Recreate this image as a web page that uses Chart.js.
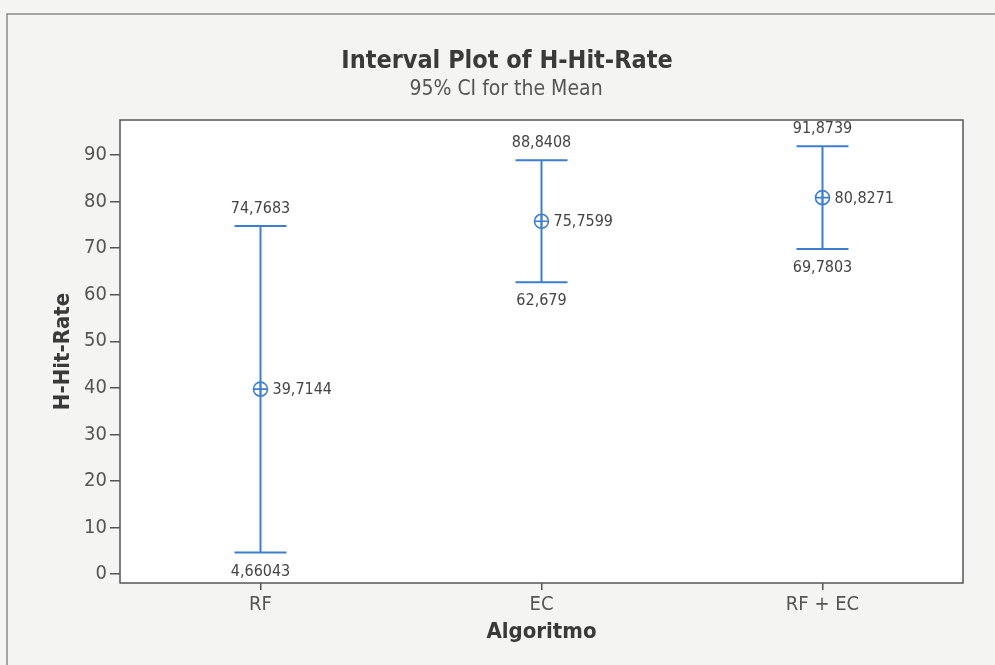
<!DOCTYPE html>
<html>
<head>
<meta charset="utf-8">
<script src="https://cdn.jsdelivr.net/npm/chart.js@4/dist/chart.umd.min.js"></script>
<style>
  html, body { margin: 0; padding: 0; background: #f4f4f2; }
  #wrap { width: 995px; height: 665px; }
</style>
</head>
<body>
<div id="wrap"><canvas id="c" width="995" height="665"></canvas></div>
<script>
// Interval plot: mean and 95% confidence interval per algorithm
const categories = ['RF', 'EC', 'RF + EC'];
const means = [39.7144, 75.7599, 80.8271];
const lowerCI = [4.66043, 62.679, 69.7803];
const upperCI = [74.7683, 88.8408, 91.8739];
const yTicks = [0, 10, 20, 30, 40, 50, 60, 70, 80, 90];

const BLUE = '#3d7ecf';
const FONT = '"DejaVu Sans Condensed", "DejaVu Sans", sans-serif';
const fmt = v => String(v).replace('.', ',');

const framePlugin = {
  id: 'frame',
  beforeDraw(chart) {
    const { ctx, chartArea: a, width, height } = chart;
    ctx.save();
    ctx.fillStyle = '#f4f4f2';
    ctx.fillRect(0, 0, width, height);
    // outer graph frame
    ctx.strokeStyle = '#8a8a8a';
    ctx.lineWidth = 1.5;
    ctx.beginPath();
    ctx.moveTo(7, height + 2);
    ctx.lineTo(7, 14);
    ctx.lineTo(width + 2, 14);
    ctx.stroke();
    // data region
    ctx.fillStyle = '#ffffff';
    ctx.fillRect(a.left, a.top, a.right - a.left, a.bottom - a.top);
    // titles
    ctx.fillStyle = '#3a3a3a';
    ctx.textAlign = 'center';
    ctx.textBaseline = 'middle';
    ctx.font = 'bold 25px ' + FONT;
    ctx.fillText('Interval Plot of H-Hit-Rate', 507, 61);
    ctx.fillStyle = '#555555';
    ctx.font = '21px ' + FONT;
    ctx.fillText('95% CI for the Mean', 506, 90);
    ctx.restore();
  },
  afterDatasetsDraw(chart) {
    const { ctx, chartArea: a } = chart;
    const xs = chart.scales.x, ys = chart.scales.y;
    ctx.save();
    // intervals
    ctx.strokeStyle = BLUE;
    ctx.lineWidth = 2;
    const cap = 26;
    categories.forEach((c, i) => {
      const x = xs.getPixelForValue(i);
      const yl = ys.getPixelForValue(lowerCI[i]);
      const yu = ys.getPixelForValue(upperCI[i]);
      ctx.beginPath();
      ctx.moveTo(x, yl); ctx.lineTo(x, yu);
      ctx.moveTo(x - cap, yl); ctx.lineTo(x + cap, yl);
      ctx.moveTo(x - cap, yu); ctx.lineTo(x + cap, yu);
      ctx.stroke();
    });
    // data region border
    ctx.strokeStyle = '#555555';
    ctx.lineWidth = 1.5;
    ctx.strokeRect(a.left, a.top, a.right - a.left, a.bottom - a.top);
    // value labels
    ctx.fillStyle = '#444444';
    ctx.font = '16px ' + FONT;
    ctx.textBaseline = 'middle';
    categories.forEach((c, i) => {
      const x = xs.getPixelForValue(i);
      ctx.textAlign = 'center';
      ctx.fillText(fmt(upperCI[i]), x, ys.getPixelForValue(upperCI[i]) - 17);
      ctx.fillText(fmt(lowerCI[i]), x, ys.getPixelForValue(lowerCI[i]) + 19);
      ctx.textAlign = 'left';
      ctx.fillText(fmt(means[i]), x + 12, ys.getPixelForValue(means[i]) + 1);
    });
    ctx.restore();
  }
};

new Chart(document.getElementById('c'), {
  type: 'line',
  data: {
    labels: categories,
    datasets: [
      {
        data: means,
        showLine: false,
        pointStyle: 'circle',
        pointRadius: 7,
        pointHoverRadius: 7,
        pointBorderWidth: 1.6,
        pointBorderColor: BLUE,
        pointBackgroundColor: 'rgba(0,0,0,0)'
      },
      {
        data: means,
        showLine: false,
        pointStyle: 'cross',
        pointRadius: 7,
        pointHoverRadius: 7,
        pointBorderWidth: 1.6,
        pointBorderColor: BLUE
      }
    ]
  },
  options: {
    responsive: false,
    animation: false,
    events: [],
    layout: { padding: { top: 120, right: 32, left: 0, bottom: 0 } },
    plugins: { legend: { display: false }, tooltip: { enabled: false }, title: { display: false } },
    scales: {
      x: {
        type: 'category',
        offset: true,
        border: { display: false },
        grid: { offset: false, drawOnChartArea: false, drawTicks: true, tickLength: 7, color: '#555555', lineWidth: 1.5 },
        ticks: { color: '#555555', font: { family: FONT, size: 20 }, padding: 3 },
        title: { display: true, text: 'Algoritmo', color: '#3a3a3a', font: { family: FONT, size: 22, weight: 'bold' }, padding: { top: 0, bottom: 20 } },
        afterFit(s) { s.height = 82; }
      },
      y: {
        min: -1.9,
        max: 97.5,
        border: { display: false },
        grid: { drawOnChartArea: false, drawTicks: true, tickLength: 10, color: '#555555', lineWidth: 1.5 },
        ticks: { color: '#555555', font: { family: FONT, size: 20 }, padding: 3, includeBounds: false, stepSize: 10 },
        afterBuildTicks(s) { s.ticks = yTicks.map(v => ({ value: v })); },
        title: { display: true, text: 'H-Hit-Rate', color: '#3a3a3a', font: { family: FONT, size: 22, weight: 'bold' }, padding: { top: 50, bottom: 0 } },
        afterFit(s) { s.width = 120; }
      }
    }
  },
  plugins: [framePlugin]
});
</script>
</body>
</html>
